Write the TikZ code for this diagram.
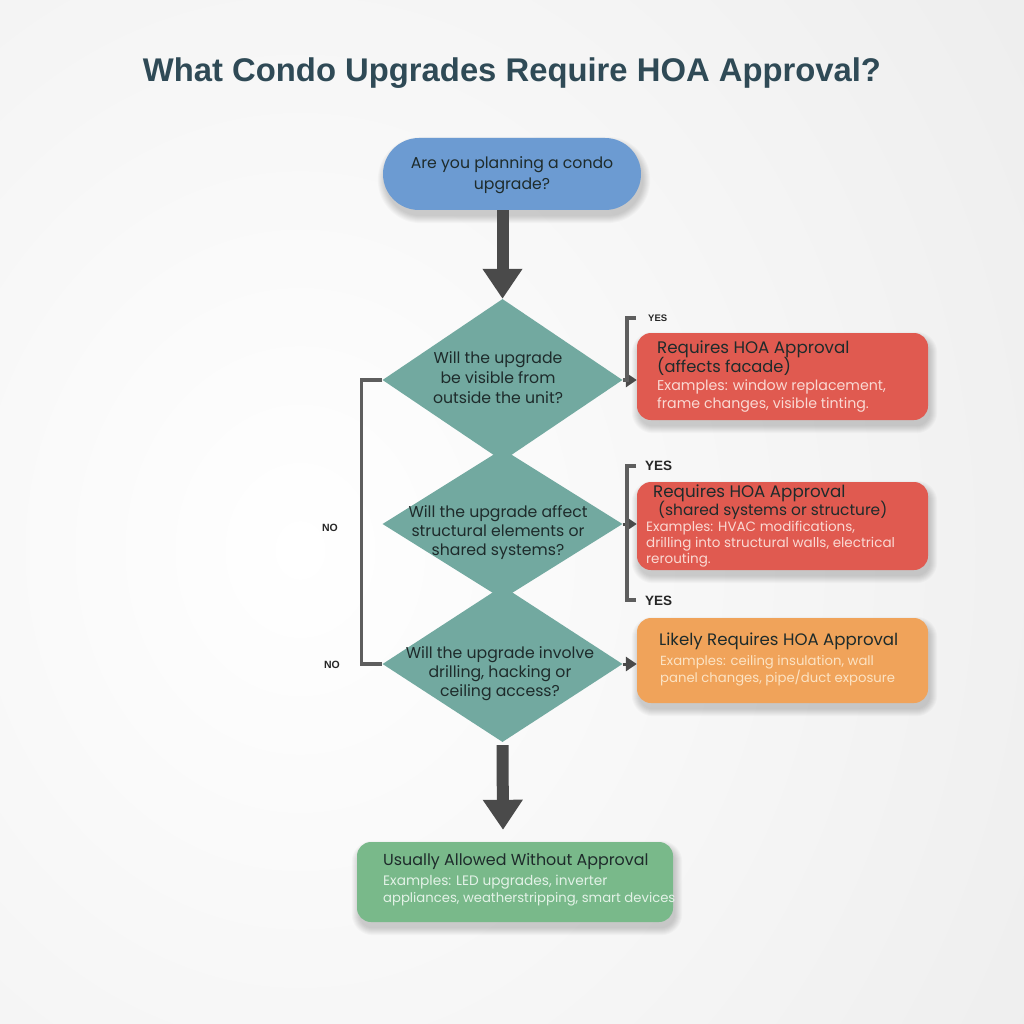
\documentclass[tikz,border=0pt]{standalone}
\usepackage{fontspec}
\setmainfont{Poppins}
\newfontfamily\titlefont{Liberation Sans}
\usetikzlibrary{arrows.meta,shapes.geometric,calc}
\pgfdeclarelayer{bglayer}
\pgfdeclarelayer{shadowlayer}
\pgfsetlayers{bglayer,shadowlayer,main}
\definecolor{bgc}{HTML}{EDEDED}
\definecolor{titlec}{HTML}{2F4A56}
\definecolor{bluec}{HTML}{6C9BD2}
\definecolor{tealc}{HTML}{72A9A0}
\definecolor{redc}{HTML}{E05A50}
\definecolor{orangec}{HTML}{F0A35A}
\definecolor{greenc}{HTML}{79B98A}
\definecolor{arrowc}{HTML}{4A4A4A}
\definecolor{brackc}{HTML}{5E5E5E}
\definecolor{darktxt}{HTML}{1E2B2B}
\definecolor{redsub}{HTML}{FAD9D3}
\definecolor{orsub}{HTML}{FCE3C4}
\definecolor{grsub}{HTML}{E3F2E7}
\newcommand{\myshadow}[2]{%
  \begin{pgfonlayer}{shadowlayer}
  \foreach \k in {0,...,7}{%
    \pgfmathsetmacro\rr{#2+\k}%
    \fill[black,opacity=0.022,rounded corners=\rr pt]
      ($(#1.north west)+(2-\k,6-\k)$) rectangle ($(#1.south east)+(2+\k,6+\k)$);
  }
  \end{pgfonlayer}}
\tikzset{
  pill/.style={rounded corners=36pt,fill=bluec,minimum width=258pt,minimum height=72pt},
  decision/.style={shape=diamond,fill=tealc,minimum width=240pt,inner sep=0pt},
  outbox/.style={rounded corners=14pt,minimum width=291pt,minimum height=86pt},
  bigarrow/.style={draw=arrowc,line width=12pt,-{Triangle[width=38pt,length=30pt]}},
  smallarrow/.style={draw=arrowc,line width=3pt,-{Triangle[width=14pt,length=11pt]}},
  bracket/.style={draw=brackc,line width=3.5pt},
  qtxt/.style={font=\fontsize{15.7}{19}\selectfont,text=darktxt,inner sep=0pt,anchor=base},
  ttl/.style={font=\fontsize{16.3}{19}\selectfont,text=darktxt,inner sep=0pt,anchor=base west},
  sub/.style={font=\fontsize{13.5}{16}\selectfont,inner sep=0pt,anchor=base west},
  yesno/.style={font=\titlefont\bfseries,text=black!85,inner sep=0pt}
}
\begin{document}
\begin{tikzpicture}[x=1pt,y=-1pt]
\useasboundingbox (0,0) rectangle (1024,1024);
\begin{pgfonlayer}{bglayer}
\fill[bgc] (0,0) rectangle (1024,1024);
\shade[inner color=white,outer color=bgc] (-600,-500) rectangle (1200,1600);
\end{pgfonlayer}
% title
\node[font=\titlefont\bfseries\fontsize{32.8}{36}\selectfont,text=titlec,anchor=base,inner sep=0pt] (title) at (512,82) {What Condo Upgrades Require HOA Approval?};
% start
\node[pill] (start) at (512,174) {};
\myshadow{start}{36}
\node[qtxt] (st1) at (512,169) {Are you planning a condo};
\node[qtxt] (st2) at (512,190) {upgrade?};
% diamonds
\node[decision,minimum height=156pt] (d3) at (502.5,664) {};
\node[decision,minimum height=150pt] (d2) at (502.5,524) {};
\node[decision,minimum height=162pt] (d1) at (502.5,380) {};
\node[qtxt] (q11) at (498,363) {Will the upgrade};
\node[qtxt] (q12) at (498,383) {be visible from};
\node[qtxt] (q13) at (498,403) {outside the unit?};
\node[qtxt] (q21) at (498,517) {Will the upgrade affect};
\node[qtxt] (q22) at (498,536) {structural elements or};
\node[qtxt] (q23) at (498,555) {shared systems?};
\node[qtxt] (q31) at (500,658) {Will the upgrade involve};
\node[qtxt] (q32) at (500,677) {drilling, hacking or};
\node[qtxt] (q33) at (500,696) {ceiling access?};
% bottom box
\node[outbox,fill=greenc,minimum width=316pt,minimum height=80pt] (g) at (515,882) {};
\myshadow{g}{14}
% big arrows
\draw[bigarrow] (d1.north |- start.south) -- (d1.north);
\draw[bigarrow] (d3.south) ++(0,3) -- ($(g.north)+(-12,-12)$);
% outcome boxes
\node[outbox,fill=redc,minimum height=87pt] (r1) at (782.5,376.5) {};
\node[outbox,fill=redc,minimum height=88pt] (r2) at (782.5,526) {};
\node[outbox,fill=orangec,minimum height=85pt] (r3) at (782.5,660.5) {};
\myshadow{r1}{14}
\myshadow{r2}{14}
\myshadow{r3}{14}
% texts in boxes
\node[ttl,font=\fontsize{16.7}{19}\selectfont] (r1a) at (657,353) {Requires HOA Approval};
\node[ttl] (r1b) at (657,372) {(affects facade)};
\node[sub,text=redsub,font=\fontsize{14.2}{16}\selectfont] (r1c) at (657,390) {Examples: window replacement,};
\node[sub,text=redsub,font=\fontsize{14.2}{16}\selectfont] (r1d) at (657,408) {frame changes, visible tinting.};
\node[ttl,font=\fontsize{16.7}{19}\selectfont] (r2a) at (653,497) {Requires HOA Approval};
\node[ttl,font=\fontsize{15.4}{19}\selectfont] (r2b) at (658,515) {(shared systems or structure)};
\node[sub,text=redsub] (r2c) at (646,531) {Examples: HVAC modifications,};
\node[sub,text=redsub] (r2d) at (646,547) {drilling into structural walls, electrical};
\node[sub,text=redsub] (r2e) at (646,563) {rerouting.};
\node[ttl,font=\fontsize{16.6}{19}\selectfont] (r3a) at (659,645) {Likely Requires HOA Approval};
\node[sub,text=orsub,font=\fontsize{13.2}{16}\selectfont] (r3b) at (660,665) {Examples: ceiling insulation, wall};
\node[sub,text=orsub,font=\fontsize{13.2}{16}\selectfont] (r3c) at (660,682) {panel changes, pipe/duct exposure};
\node[ttl,font=\fontsize{15.9}{19}\selectfont] (ga) at (383,865) {Usually Allowed Without Approval};
\node[sub,text=grsub,font=\fontsize{13.7}{16}\selectfont] (gb) at (383,885) {Examples: LED upgrades, inverter};
\begin{scope}
\clip (g.north west) rectangle ($(g.south east)+(1,0)$);
\node[sub,text=grsub,font=\fontsize{13.2}{16}\selectfont] (gc) at (383,902) {appliances, weatherstripping, smart devices};
\end{scope}
% small arrows
\draw[smallarrow] (d1.east) -- (r1.west|-d1.east);
\draw[smallarrow] (d2.east) -- (r2.west|-d2.east);
\draw[smallarrow] (d3.east) -- (r3.west|-d3.east);
% brackets
\coordinate (y1t) at (636,318);
\coordinate (y2t) at (636,466);
\coordinate (y2b) at (636,600);
\draw[bracket] (y1t) -- ++(-9,0) |- (d1.east);
\draw[bracket] (y2t) -- ++(-9,0) -- ($(y2b)+(-9,0)$) -- (y2b);
\draw[bracket] (d1.west) -- ++(-21,0) |- (d3.west);
% labels
\node[yesno,font=\titlefont\bfseries\fontsize{9.5}{11}\selectfont,anchor=base west] (yes1) at (648,321) {YES};
\node[yesno,font=\titlefont\bfseries\fontsize{13.5}{15}\selectfont,anchor=base west] (yes2) at (645,470) {YES};
\node[yesno,font=\titlefont\bfseries\fontsize{13.5}{15}\selectfont,anchor=base west] (yes3) at (645,605) {YES};
\node[yesno,font=\titlefont\bfseries\fontsize{10.5}{12}\selectfont] (no1) at (330,528) {NO};
\node[yesno,font=\titlefont\bfseries\fontsize{10.5}{12}\selectfont] (no2) at (332,665) {NO};
\end{tikzpicture}
\end{document}
